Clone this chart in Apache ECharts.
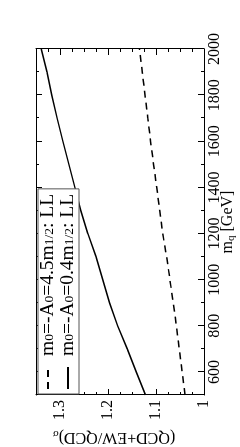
<!DOCTYPE html>
<html>
<head>
<meta charset="utf-8">
<script src="https://cdn.jsdelivr.net/npm/echarts@6/dist/echarts.min.js"></script>
<style>
html, body { margin: 0; padding: 0; overflow: hidden; background: #fff; width: 240px; height: 447px; }
#c { position: absolute; left: 0; top: 0; width: 447px; height: 240px; transform-origin: 0 0; transform: translateY(447px) rotate(-90deg); }
</style>
</head>
<body>
<div id="c"></div>
<script>
// squark mass m_q [GeV]
const mq = [500, 600, 700, 800, 900, 1000, 1100, 1200, 1300, 1400, 1500, 1600, 1700, 1800, 1900, 2000];
// m0 = -A0 = 4.5 m1/2 : LL (dashed)
const ratioA = [1.0395, 1.0455, 1.0515, 1.0575, 1.064, 1.071, 1.078, 1.086, 1.0923, 1.0986, 1.105, 1.1113, 1.117, 1.1228, 1.1286, 1.1344];
// m0 = -A0 = 0.4 m1/2 : LL (solid)
const ratioB = [1.122, 1.141, 1.160, 1.180, 1.197, 1.211, 1.225, 1.242, 1.2566, 1.269, 1.2815, 1.294, 1.306, 1.317, 1.3269, 1.339];
const nameA = 'm0=-A0=4.5m1/2: LL';
const nameB = 'm0=-A0=0.4m1/2: LL';
const xMajor = [600, 800, 1000, 1200, 1400, 1600, 1800, 2000];
const xMinor = [700, 900, 1100, 1300, 1500, 1700, 1900];
const yMajor = [1, 1.1, 1.2, 1.3];
const yMinor = [1.025, 1.05, 1.075, 1.125, 1.15, 1.175, 1.225, 1.25, 1.275, 1.325];

const FONT = '"Liberation Serif", "DejaVu Serif", serif';
const rich = {
  n: { fontFamily: FONT, fontSize: 16, lineHeight: 18, color: '#000' },
  s: { fontFamily: FONT, fontSize: 11, lineHeight: 10, verticalAlign: 'bottom', color: '#000' }
};
const richL = {
  n: { fontFamily: FONT, fontSize: 19.5, lineHeight: 17.4, color: '#000' },
  s: { fontFamily: FONT, fontSize: 13.5, lineHeight: 9.5, verticalAlign: 'bottom', color: '#000' }
};
const lineC = '#000';

function xAx(pos, ticks, len, main) {
  return {
    type: 'value', min: 500, max: 2000, position: pos, gridIndex: 0,
    axisLine: { show: main, onZero: false, lineStyle: { color: lineC, width: 1 } },
    axisTick: { show: true, inside: true, length: len, customValues: ticks, lineStyle: { color: lineC, width: 1 } },
    axisLabel: { show: main && pos === 'bottom', customValues: xMajor, margin: 3, fontFamily: FONT, fontSize: 16, color: '#000',
      formatter: function (v) { return String(v); } },
    splitLine: { show: false },
    name: (main && pos === 'bottom') ? '{n|m}{s|q}{n| [GeV]}' : '',
    nameLocation: 'middle', nameGap: 15, nameMoveOverlap: false,
    nameTextStyle: { rich: rich }
  };
}
function yAx(pos, ticks, len, main) {
  return {
    type: 'value', min: 1, max: 1.35, position: pos, gridIndex: 0,
    axisLine: { show: main, onZero: false, lineStyle: { color: lineC, width: 1 } },
    axisTick: { show: true, inside: true, length: len, customValues: ticks, lineStyle: { color: lineC, width: 1 } },
    axisLabel: { show: main && pos === 'left', customValues: yMajor, margin: 5, fontFamily: FONT, fontSize: 16, color: '#000',
      formatter: function (v) { return String(v); } },
    splitLine: { show: false },
    name: (main && pos === 'left') ? '{n|(QCD+EW/QCD)}{s|σ}' : '',
    nameLocation: 'middle', nameGap: 33, nameRotate: 90, nameMoveOverlap: false,
    nameTextStyle: { rich: rich, padding: [0, 0, 0, 12] }
  };
}

const chart = echarts.init(document.getElementById('c'), null, { width: 447, height: 240, renderer: 'canvas' });
chart.setOption({
  animation: false,
  backgroundColor: '#fff',
  grid: { left: 52, right: 49, top: 36, bottom: 36, containLabel: false, outerBoundsMode: 'none' },
  xAxis: [xAx('bottom', xMajor, 6, true), xAx('bottom', xMinor, 3, false), xAx('top', xMajor, 6, true), xAx('top', xMinor, 3, false)],
  yAxis: [yAx('left', yMajor, 6, true), yAx('left', yMinor, 3, false), yAx('right', yMajor, 6, true), yAx('right', yMinor, 3, false)],
  legend: {
    orient: 'vertical', left: 53, top: 38, itemGap: 0, itemWidth: 22, itemHeight: 14,
    padding: [0, 5, 1, 4], borderColor: '#555', borderWidth: 1, backgroundColor: '#fff',
    itemStyle: { opacity: 0 },
    data: [nameA, nameB],
    formatter: function (nm) {
      return nm === nameA
        ? '{n|m}{s|0}{n|=-A}{s|0}{n|=4.5m}{s|1/2}{n|: LL}'
        : '{n|m}{s|0}{n|=-A}{s|0}{n|=0.4m}{s|1/2}{n|: LL}';
    },
    textStyle: { rich: richL, padding: [0, 0, 0, 6] }
  },
  series: [
    { name: nameA, type: 'line', xAxisIndex: 0, yAxisIndex: 0, symbol: 'none', showSymbol: false,
      lineStyle: { color: '#000', width: 1.5, type: [7, 5] }, itemStyle: { color: '#000' },
      data: mq.map((m, i) => [m, ratioA[i]]) },
    { name: nameB, type: 'line', xAxisIndex: 0, yAxisIndex: 0, symbol: 'none', showSymbol: false,
      lineStyle: { color: '#000', width: 1.5 }, itemStyle: { color: '#000' },
      data: mq.map((m, i) => [m, ratioB[i]]) }
  ]
});
</script>
</body>
</html>
